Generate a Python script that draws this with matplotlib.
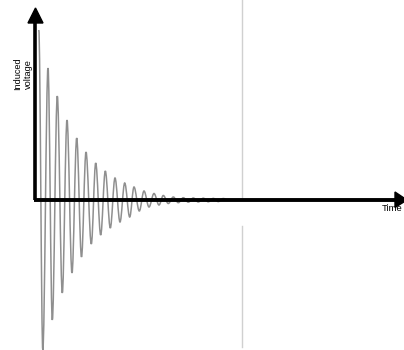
import matplotlib
matplotlib.use('Agg')
import matplotlib.pyplot as plt
from matplotlib.path import Path
from matplotlib.patches import PathPatch, Polygon

plt.rcParams['font.family'] = ['Liberation Sans', 'DejaVu Sans']

# peaks and troughs of the damped signal
ext_time = [38.8, 42.8, 48, 52.3, 57.3, 62.3, 67, 72, 76.7, 81.5, 86, 91.3,
            95.7, 100.7, 105.3, 110.3, 115, 120, 124.7, 129.7, 134, 139.3,
            144, 149, 154, 159, 163.3, 168.3, 173.3, 178.3, 183.3, 188.3,
            193.3, 198.3, 203.3, 208.3, 213.3, 218.3, 223.3, 228]
ext_volt = [170, -150, 132, -120, 104, -93, 80, -73, 62, -57, 48, -44,
            37, -35, 29, -28, 22, -22, 17, -17, 13, -11, 9, -7, 6.5, -5,
            4.5, -3.5, 3, -2.7, 2.3, -2.2, 2, -2, 1.8, -1.8, 1.6, -1.6, 1.5, 0]
marker_time = 241.7

fig = plt.figure(figsize=(4.04, 3.5), dpi=100)
ax = fig.add_axes([0, 0, 1, 1])
ax.set_xlim(0, 404)
ax.set_ylim(-150, 200)
ax.axis('off')

# smooth curve through the extrema (flat tangent at each one)
verts = [(ext_time[0], ext_volt[0])]
codes = [Path.MOVETO]
for i in range(1, len(ext_time)):
    t0, v0 = ext_time[i - 1], ext_volt[i - 1]
    t1, v1 = ext_time[i], ext_volt[i]
    dt = t1 - t0
    verts += [(t0 + 0.36 * dt, v0), (t1 - 0.36 * dt, v1), (t1, v1)]
    codes += [Path.CURVE4] * 3
ax.add_patch(PathPatch(Path(verts, codes), fill=False,
                       edgecolor='#8f8f8f', lw=1.1, zorder=2))

# thin grey marker line
ax.plot([marker_time, marker_time], [0, 200], color='#d0d0d0', lw=1, zorder=1)
ax.plot([marker_time, marker_time], [-26, -147], color='#d0d0d0', lw=1, zorder=1)

# axes with arrow heads
ax.plot([35.3, 35.3], [0, 178], color='black', lw=2.6,
        solid_capstyle='butt', zorder=3)
ax.plot([34, 396], [0, 0], color='black', lw=2.8,
        solid_capstyle='butt', zorder=3)
ax.add_patch(Polygon([(28, 177), (43, 177), (35.5, 192)], closed=True,
                     color='black', zorder=3))
ax.add_patch(Polygon([(395, 8), (395, -7.5), (407, 0)], closed=True,
                     color='black', zorder=3))

ax.text(23, 126, 'Induced\nvoltage', rotation=90, ha='center', va='center',
        fontsize=6.6, linespacing=1.25)
ax.text(402.5, -8.5, 'Time', ha='right', va='center', fontsize=6.8)

fig.savefig('out.png', dpi=100)
